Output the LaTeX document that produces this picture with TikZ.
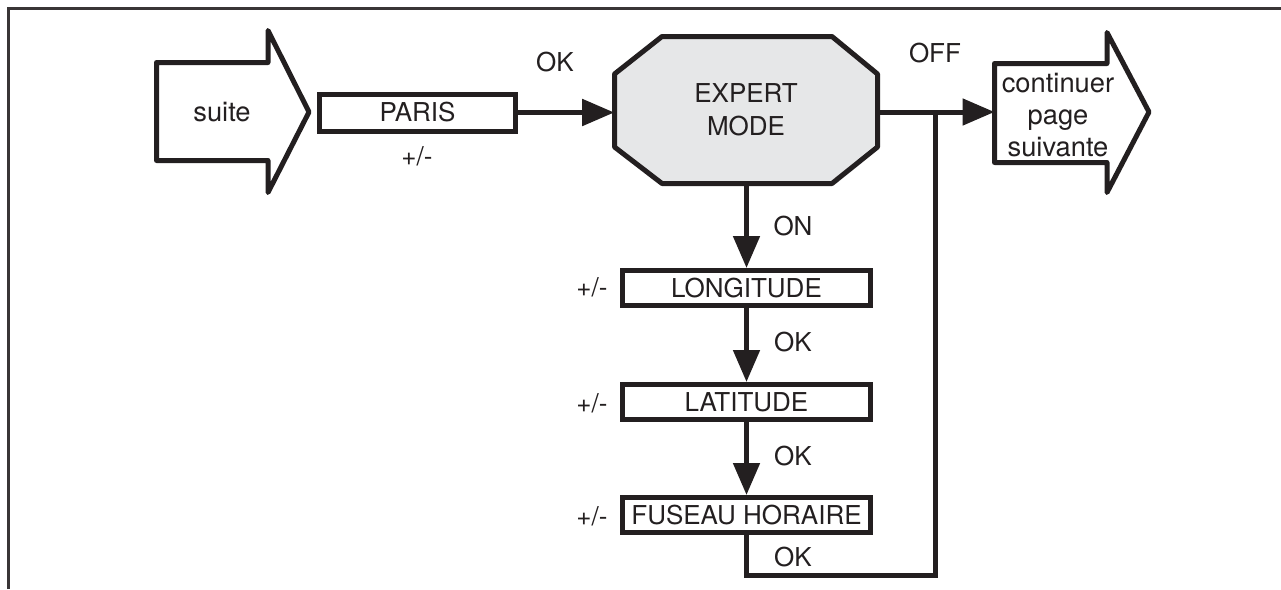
\documentclass[tikz,border=0pt]{standalone}
\usepackage{fontspec}
\setmainfont{TeX Gyre Heros}
\usetikzlibrary{arrows.meta}
\definecolor{ink}{HTML}{231F20}
\definecolor{octfill}{HTML}{E6E7E8}
\begin{document}
\begin{tikzpicture}[x=0.75pt,y=-0.75pt,
  every node/.style={font=\fontsize{19.5}{23}\selectfont, text=ink},
  thick line/.style={draw=ink, line width=3.75pt},
  bigarrow/.style={thick line, line join=round, fill=white},
  stepbox/.style={thick line, fill=white, inner sep=0pt, minimum width=186pt, minimum height=26.25pt},
  conn/.style={thick line, -{Triangle[length=24pt,width=19.5pt]}},
  plain/.style={thick line},
  lbl/.style={inner sep=0pt},
  lower/.style={inner sep=0pt, font=\fontsize{20.5}{24}\selectfont}
]
\useasboundingbox (0,0) rectangle (1281,589);
% frame
\draw[draw=ink!90, line width=2.4pt] (8.5,589) -- (8.5,8.5) -- (1281,8.5);

% suite arrow
\draw[bigarrow] (156.5,62.5) -- (268,62.5) -- (268,30.5) -- (309,112) -- (268,192.5) -- (268,160.5) -- (156.5,160.5) -- cycle;
\node[lower] (suite) at (222,112) {suite};

% PARIS box
\node[thick line, fill=white, inner sep=0pt, minimum width=147pt, minimum height=27.75pt] (paris) at (417.5,112.5) {PARIS};
\node[lbl] (parispm) at (417,156) {+/-};

% expert octagon
\filldraw[thick line, fill=octfill, line join=round] (662,36.5) -- (832,36.5) -- (877.5,74) -- (877.5,147) -- (832,183.5) -- (662,183.5) -- (614.5,147) -- (614.5,74) -- cycle;
\node[inner sep=0pt, minimum width=197.25pt, minimum height=110.25pt, align=center] (expert) at (746,110) {EXPERT\\[1.5pt]MODE};

% continuer arrow
\draw[bigarrow] (994.5,63.5) -- (1107,63.5) -- (1107,32.5) -- (1149,112) -- (1107,192.5) -- (1107,162.5) -- (994.5,162.5) -- cycle;
\coordinate (contin) at (994.5,112);
\node[lower, align=center] (cont) at (1058,115) {continuer\\[0pt]page\\[0pt]suivante};

% vertical boxes
\node[stepbox] (lon) at (746.5,288) {LONGITUDE};
\node[stepbox] (lat) at (746.5,402) {LATITUDE};
\node[stepbox] (fus) at (746.5,515) {FUSEAU HORAIRE};

% connectors
\draw[conn] (paris.east) -- (paris.east -| expert.west);
\coordinate (junc) at (935.5,112);
\coordinate (loopl) at (746.5,575);
\draw[conn] (expert.east |- junc) -- (contin);
\draw[conn] (expert.south -| lon.north) -- (lon.north);
\draw[conn] (lon.south) -- (lat.north);
\draw[conn] (lat.south) -- (fus.north);
\draw[plain, line join=miter] (fus.south) -- (loopl) -| (junc);

% labels
\node[lbl] (okA) at (555,62) {OK};
\node[lbl] (off) at (935,53) {OFF};
\node[lbl] (on) at (793,226) {ON};
\node[lbl] (okB) at (793,342) {OK};
\node[lbl] (okC) at (793,456) {OK};
\node[lbl] (okD) at (793,557) {OK};
\node[lbl] (pmA) at (592,287) {+/-};
\node[lbl] (pmB) at (592,403) {+/-};
\node[lbl] (pmC) at (592,516) {+/-};
\end{tikzpicture}
\end{document}
